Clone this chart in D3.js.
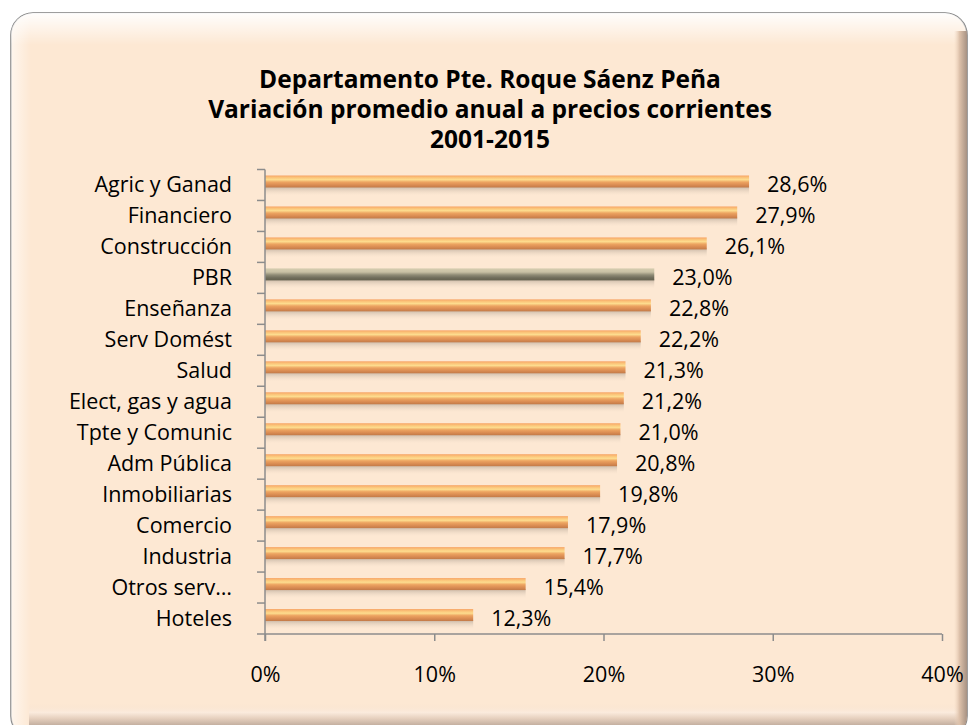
<!DOCTYPE html>
<html>
<head>
<meta charset="utf-8">
<script src="https://cdn.jsdelivr.net/npm/d3@7"></script>
<style>
  body { margin: 0; background: #fff; }
</style>
</head>
<body>
<div id="chart"></div>
<script>
// data, top to bottom as in the chart
var categories = ["Agric y Ganad", "Financiero", "Construcción", "PBR",
  "Enseñanza", "Serv Domést", "Salud", "Elect, gas y agua",
  "Tpte y Comunic", "Adm Pública", "Inmobiliarias", "Comercio",
  "Industria", "Otros serv…", "Hoteles"];
var values = [28.6, 27.9, 26.1, 23.0, 22.8, 22.2, 21.3, 21.2, 21.0, 20.8, 19.8, 17.9, 17.7, 15.4, 12.3];
var highlight = ["PBR"];
var xTicks = [0, 10, 20, 30, 40];
var titleLines = ["Departamento Pte. Roque Sáenz Peña",
  "Variación promedio anual a precios corrientes",
  "2001-2015"];

var W = 971, H = 725;
var margin = {left: 265, right: 29, top: 169.5, bottom: 91};
var font = "'Open Sans', 'Liberation Sans', sans-serif";
var fs = 21.5;

var svg = d3.select("#chart").append("svg")
  .attr("width", W).attr("height", H);

var defs = svg.append("defs");

function grad(id, horiz, stops) {
  var g = defs.append("linearGradient").attr("id", id)
    .attr("x1", 0).attr("y1", 0).attr("x2", horiz ? 1 : 0).attr("y2", horiz ? 0 : 1);
  stops.forEach(function(s){ g.append("stop").attr("offset", s[0]).attr("stop-color", s[1]).attr("stop-opacity", s[2] == null ? 1 : s[2]); });
}

grad("barOrange", false, [[0, "#F7A466"], [0.18, "#FBC57A"], [0.35, "#FDDC8E"], [0.55, "#EDA461"], [0.8, "#D98B52"], [1, "#C27A48"]]);
grad("barGrey", false, [[0, "#D6CDB0"], [0.3, "#C8C0A4"], [0.55, "#8E8A75"], [0.8, "#6E6B5A"], [1, "#65624F"]]);
grad("barShadow", false, [[0, "#9C8E80", 0.55], [1, "#E8D4C0", 0]]);
grad("topGlow", false, [[0, "#ffffff", 0.95], [1, "#ffffff", 0]]);
grad("botShade", false, [[0, "#F8E2CE", 0], [0.35, "#FBEBDD", 1], [0.6, "#E6D0BE", 1], [1, "#B5A193", 1]]);
grad("rightShade", true, [[0, "#F0D5BE", 0], [0.4, "#DCC0A9", 1], [1, "#A08C7E", 1]]);
grad("leftGlow", true, [[0, "#ffffff", 0.6], [1, "#ffffff", 0]]);

// frame with bevel
var fx = 11, fy = 13, fw = 956, fh = 725, r = 22;
svg.append("rect").attr("x", fx).attr("y", fy).attr("width", fw).attr("height", fh)
  .attr("rx", r).attr("fill", "#FDE8D3").attr("stroke", "#7F7F7F").attr("stroke-width", 1.5);
svg.append("clipPath").attr("id", "frameClip").append("rect")
  .attr("x", fx).attr("y", fy).attr("width", fw).attr("height", fh).attr("rx", r);
var bevel = svg.append("g").attr("clip-path", "url(#frameClip)");
bevel.append("rect").attr("x", fx).attr("y", fy).attr("width", fw).attr("height", 32).attr("fill", "url(#topGlow)");
bevel.append("rect").attr("x", fx).attr("y", fy).attr("width", 20).attr("height", fh).attr("fill", "url(#leftGlow)");
bevel.append("rect").attr("x", fx + 18).attr("y", 704).attr("width", fw).attr("height", 24).attr("fill", "url(#botShade)");
bevel.append("rect").attr("x", 954).attr("y", fy + 18).attr("width", 14).attr("height", fh).attr("fill", "url(#rightShade)");

// title
svg.append("g").selectAll("text").data(titleLines).enter().append("text")
  .attr("x", 490)
  .attr("y", function(d, i){ return 88 + i * 30; })
  .attr("text-anchor", "middle")
  .attr("font-family", font)
  .attr("font-weight", "bold")
  .attr("font-size", 24.5)
  .attr("fill", "#000")
  .text(function(d){ return d; });

var x = d3.scaleLinear().domain([0, 40]).range([margin.left, W - margin.right]);
var y = d3.scaleBand().domain(categories).range([margin.top, H - margin.bottom]);

var plot = svg.append("g");

var bars = plot.selectAll("g.bar").data(values).enter().append("g").attr("class", "bar");
bars.append("rect")
  .attr("x", x(0))
  .attr("y", function(d, i){ return y(categories[i]) + 17; })
  .attr("width", function(d){ return x(d) - x(0); })
  .attr("height", 9)
  .attr("fill", "url(#barShadow)");
bars.append("rect")
  .attr("x", x(0))
  .attr("y", function(d, i){ return y(categories[i]) + 6; })
  .attr("width", function(d){ return x(d) - x(0); })
  .attr("height", 12)
  .attr("fill", function(d, i){ return highlight.indexOf(categories[i]) >= 0 ? "url(#barGrey)" : "url(#barOrange)"; });

// value labels
plot.selectAll("text.val").data(values).enter().append("text")
  .attr("class", "val")
  .attr("x", function(d){ return x(d) + 18; })
  .attr("y", function(d, i){ return y(categories[i]) + y.bandwidth() / 2 + 7; })
  .attr("font-family", font)
  .attr("font-size", fs)
  .attr("fill", "#000")
  .text(function(d){ return d.toFixed(1).replace(".", ",") + "%"; });

// y axis
var yAxis = svg.append("g").attr("transform", "translate(" + x(0) + ",0)");
yAxis.append("line").attr("x1", 0).attr("x2", 0)
  .attr("y1", margin.top).attr("y2", H - margin.bottom + 7)
  .attr("stroke", "#8C8C8C").attr("stroke-width", 1.5);
yAxis.selectAll("line.tick").data(categories.concat([null])).enter().append("line")
  .attr("class", "tick")
  .attr("x1", -8).attr("x2", 0)
  .attr("y1", function(d){ return d == null ? H - margin.bottom : y(d); })
  .attr("y2", function(d){ return d == null ? H - margin.bottom : y(d); })
  .attr("stroke", "#8C8C8C").attr("stroke-width", 1.5);
yAxis.selectAll("text").data(categories).enter().append("text")
  .attr("x", -33)
  .attr("y", function(d){ return y(d) + y.bandwidth() / 2 + 7.5; })
  .attr("text-anchor", "end")
  .attr("font-family", font)
  .attr("font-size", fs)
  .attr("fill", "#000")
  .text(function(d){ return d; });

// x axis
var xAxis = svg.append("g").attr("transform", "translate(0," + (H - margin.bottom) + ")")
  .call(d3.axisBottom(x).tickValues(xTicks).tickSize(7).tickPadding(26)
    .tickFormat(function(d){ return d + "%"; }));
xAxis.select(".domain").attr("stroke", "#8C8C8C").attr("stroke-width", 1.5)
  .attr("d", "M" + x(0) + ",0H" + x(40));
xAxis.selectAll(".tick line").attr("stroke", "#8C8C8C").attr("stroke-width", 1.5);
xAxis.selectAll(".tick text").attr("font-family", font).attr("font-size", fs).attr("fill", "#000");
</script>
</body>
</html>
